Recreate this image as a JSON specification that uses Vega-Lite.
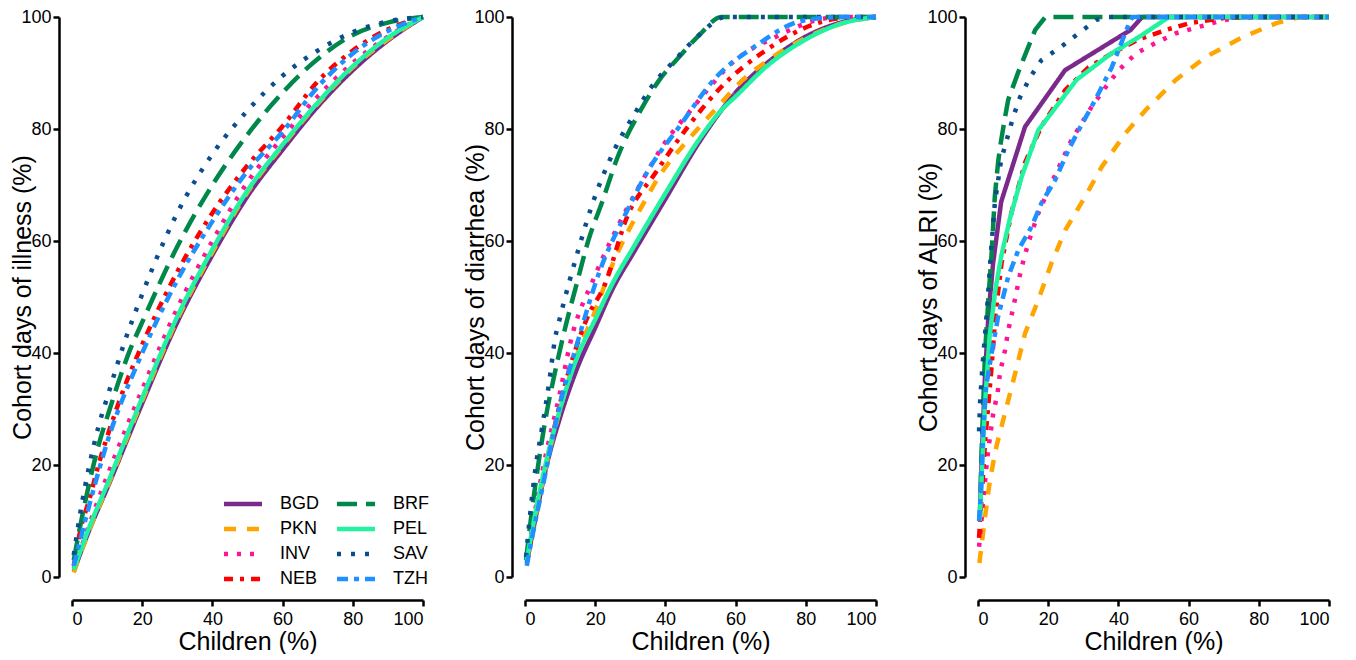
{
  "$schema": "https://vega.github.io/schema/vega-lite/v6.json",
  "background": "white",
  "padding": {"left": 10, "top": 8, "right": 5, "bottom": 0},
  "bounds": "flush",
  "spacing": 102,
  "config": {
    "view": {"stroke": null},
    "font": "Liberation Sans",
    "axis": {
      "grid": false,
      "domainColor": "black",
      "domainWidth": 2.5,
      "tickColor": "black",
      "tickWidth": 2.5,
      "tickSize": 6,
      "labelFont": "Liberation Sans",
      "labelFontSize": 18,
      "labelColor": "black",
      "titleFont": "Liberation Sans",
      "titleFontSize": 25,
      "titleFontWeight": "normal",
      "titleColor": "black"
    },
    "axisX": {"offset": 23, "titlePadding": 1, "labelPadding": 4},
    "axisY": {"offset": 13, "titlePadding": -15, "labelPadding": 2},
    "legend": {
      "labelFont": "Liberation Sans",
      "labelFontSize": 18,
      "labelColor": "black"
    },
    "line": {"strokeWidth": 4.5, "strokeCap": "butt", "strokeJoin": "round"}
  },
  "data": {"values": [
    {"p":"I","c":"BGD","x":0.5,"y":1},{"p":"I","c":"BGD","x":5,"y":8.5},{"p":"I","c":"BGD","x":10,"y":15.8},{"p":"I","c":"BGD","x":20,"y":31},{"p":"I","c":"BGD","x":30,"y":45.5},{"p":"I","c":"BGD","x":40,"y":57.5},{"p":"I","c":"BGD","x":50,"y":68},{"p":"I","c":"BGD","x":60,"y":76.3},{"p":"I","c":"BGD","x":70,"y":84},{"p":"I","c":"BGD","x":80,"y":90.5},{"p":"I","c":"BGD","x":90,"y":95.8},{"p":"I","c":"BGD","x":100,"y":100},
    {"p":"I","c":"PKN","x":0.5,"y":0.8},{"p":"I","c":"PKN","x":5,"y":8.5},{"p":"I","c":"PKN","x":10,"y":16},{"p":"I","c":"PKN","x":20,"y":31.5},{"p":"I","c":"PKN","x":30,"y":46},{"p":"I","c":"PKN","x":40,"y":58},{"p":"I","c":"PKN","x":50,"y":68.7},{"p":"I","c":"PKN","x":60,"y":77},{"p":"I","c":"PKN","x":70,"y":84.5},{"p":"I","c":"PKN","x":80,"y":91},{"p":"I","c":"PKN","x":90,"y":96},{"p":"I","c":"PKN","x":100,"y":100},
    {"p":"I","c":"INV","x":0.5,"y":1.5},{"p":"I","c":"INV","x":5,"y":9.5},{"p":"I","c":"INV","x":10,"y":18},{"p":"I","c":"INV","x":20,"y":33.5},{"p":"I","c":"INV","x":30,"y":48},{"p":"I","c":"INV","x":40,"y":60},{"p":"I","c":"INV","x":50,"y":70.5},{"p":"I","c":"INV","x":60,"y":78.5},{"p":"I","c":"INV","x":70,"y":85.8},{"p":"I","c":"INV","x":80,"y":91.8},{"p":"I","c":"INV","x":90,"y":96.5},{"p":"I","c":"INV","x":100,"y":100},
    {"p":"I","c":"NEB","x":0.5,"y":2},{"p":"I","c":"NEB","x":2.4,"y":8.4},{"p":"I","c":"NEB","x":5,"y":14},{"p":"I","c":"NEB","x":8,"y":21},{"p":"I","c":"NEB","x":10,"y":25},{"p":"I","c":"NEB","x":15,"y":34},{"p":"I","c":"NEB","x":20,"y":41.5},{"p":"I","c":"NEB","x":30,"y":54.5},{"p":"I","c":"NEB","x":40,"y":65},{"p":"I","c":"NEB","x":50,"y":73.5},{"p":"I","c":"NEB","x":60,"y":80.5},{"p":"I","c":"NEB","x":70,"y":88.5},{"p":"I","c":"NEB","x":80,"y":94},{"p":"I","c":"NEB","x":90,"y":97.8},{"p":"I","c":"NEB","x":100,"y":100},
    {"p":"I","c":"BRF","x":0.5,"y":3},{"p":"I","c":"BRF","x":2,"y":8},{"p":"I","c":"BRF","x":5,"y":17},{"p":"I","c":"BRF","x":8,"y":24.5},{"p":"I","c":"BRF","x":10,"y":28.5},{"p":"I","c":"BRF","x":16.5,"y":40.5},{"p":"I","c":"BRF","x":20,"y":45.5},{"p":"I","c":"BRF","x":30,"y":59},{"p":"I","c":"BRF","x":40,"y":70},{"p":"I","c":"BRF","x":50,"y":79},{"p":"I","c":"BRF","x":60,"y":86.5},{"p":"I","c":"BRF","x":70,"y":92.5},{"p":"I","c":"BRF","x":80,"y":96.8},{"p":"I","c":"BRF","x":90,"y":99},{"p":"I","c":"BRF","x":100,"y":100},
    {"p":"I","c":"PEL","x":0.5,"y":1.3},{"p":"I","c":"PEL","x":5,"y":9},{"p":"I","c":"PEL","x":10,"y":16.5},{"p":"I","c":"PEL","x":20,"y":32},{"p":"I","c":"PEL","x":30,"y":46.5},{"p":"I","c":"PEL","x":40,"y":58.5},{"p":"I","c":"PEL","x":50,"y":69},{"p":"I","c":"PEL","x":60,"y":77.2},{"p":"I","c":"PEL","x":70,"y":84.7},{"p":"I","c":"PEL","x":80,"y":91.2},{"p":"I","c":"PEL","x":90,"y":96.3},{"p":"I","c":"PEL","x":100,"y":100},
    {"p":"I","c":"SAV","x":0.5,"y":3.9},{"p":"I","c":"SAV","x":2.4,"y":11.6},{"p":"I","c":"SAV","x":4.8,"y":19.5},{"p":"I","c":"SAV","x":7.6,"y":27},{"p":"I","c":"SAV","x":10,"y":32},{"p":"I","c":"SAV","x":15,"y":42},{"p":"I","c":"SAV","x":20,"y":50.5},{"p":"I","c":"SAV","x":26.6,"y":60.5},{"p":"I","c":"SAV","x":30,"y":65},{"p":"I","c":"SAV","x":40,"y":75.5},{"p":"I","c":"SAV","x":50,"y":83.3},{"p":"I","c":"SAV","x":60,"y":89.5},{"p":"I","c":"SAV","x":70,"y":94},{"p":"I","c":"SAV","x":80,"y":97.3},{"p":"I","c":"SAV","x":90,"y":99.2},{"p":"I","c":"SAV","x":100,"y":100},
    {"p":"I","c":"TZH","x":0.5,"y":2},{"p":"I","c":"TZH","x":5,"y":13},{"p":"I","c":"TZH","x":10,"y":24},{"p":"I","c":"TZH","x":20,"y":40},{"p":"I","c":"TZH","x":30,"y":53},{"p":"I","c":"TZH","x":40,"y":63.5},{"p":"I","c":"TZH","x":50,"y":72.5},{"p":"I","c":"TZH","x":60,"y":79.5},{"p":"I","c":"TZH","x":70,"y":87.5},{"p":"I","c":"TZH","x":80,"y":93.5},{"p":"I","c":"TZH","x":90,"y":97.5},{"p":"I","c":"TZH","x":100,"y":100},

    {"p":"D","c":"BGD","x":0.5,"y":2.5},{"p":"D","c":"BGD","x":3,"y":10.5},{"p":"D","c":"BGD","x":6,"y":19.5},{"p":"D","c":"BGD","x":10,"y":28.5},{"p":"D","c":"BGD","x":15,"y":37.5},{"p":"D","c":"BGD","x":20,"y":44.5},{"p":"D","c":"BGD","x":25,"y":51.5},{"p":"D","c":"BGD","x":31,"y":58},{"p":"D","c":"BGD","x":40,"y":67.5},{"p":"D","c":"BGD","x":50,"y":78},{"p":"D","c":"BGD","x":60,"y":86.5},{"p":"D","c":"BGD","x":70,"y":92.3},{"p":"D","c":"BGD","x":80,"y":96.5},{"p":"D","c":"BGD","x":90,"y":99},{"p":"D","c":"BGD","x":100,"y":100},
    {"p":"D","c":"PKN","x":0.5,"y":3},{"p":"D","c":"PKN","x":5,"y":17},{"p":"D","c":"PKN","x":10,"y":30},{"p":"D","c":"PKN","x":15,"y":40},{"p":"D","c":"PKN","x":20,"y":47.5},{"p":"D","c":"PKN","x":24.4,"y":55},{"p":"D","c":"PKN","x":34,"y":67},{"p":"D","c":"PKN","x":38.7,"y":72},{"p":"D","c":"PKN","x":46.4,"y":78},{"p":"D","c":"PKN","x":54.1,"y":83.4},{"p":"D","c":"PKN","x":61.6,"y":88.5},{"p":"D","c":"PKN","x":69.3,"y":92.3},{"p":"D","c":"PKN","x":78.8,"y":95.9},{"p":"D","c":"PKN","x":90,"y":98.8},{"p":"D","c":"PKN","x":100,"y":100},
    {"p":"D","c":"INV","x":0.5,"y":3},{"p":"D","c":"INV","x":5,"y":19},{"p":"D","c":"INV","x":10,"y":33},{"p":"D","c":"INV","x":12.9,"y":41.8},{"p":"D","c":"INV","x":19.8,"y":53.6},{"p":"D","c":"INV","x":24.4,"y":60},{"p":"D","c":"INV","x":33,"y":70.3},{"p":"D","c":"INV","x":39.8,"y":77.5},{"p":"D","c":"INV","x":47.3,"y":83.4},{"p":"D","c":"INV","x":59.9,"y":92.3},{"p":"D","c":"INV","x":71.3,"y":96.4},{"p":"D","c":"INV","x":82.8,"y":99.4},{"p":"D","c":"INV","x":90,"y":100},{"p":"D","c":"INV","x":100,"y":100},
    {"p":"D","c":"NEB","x":0.5,"y":3},{"p":"D","c":"NEB","x":5,"y":17},{"p":"D","c":"NEB","x":10,"y":31},{"p":"D","c":"NEB","x":17.8,"y":46.4},{"p":"D","c":"NEB","x":22.6,"y":52},{"p":"D","c":"NEB","x":29.2,"y":64.5},{"p":"D","c":"NEB","x":37,"y":72},{"p":"D","c":"NEB","x":46.4,"y":80.4},{"p":"D","c":"NEB","x":55.9,"y":87.5},{"p":"D","c":"NEB","x":68.5,"y":94},{"p":"D","c":"NEB","x":82.8,"y":98.8},{"p":"D","c":"NEB","x":90,"y":99.8},{"p":"D","c":"NEB","x":100,"y":100},
    {"p":"D","c":"BRF","x":0.3,"y":3},{"p":"D","c":"BRF","x":2,"y":12},{"p":"D","c":"BRF","x":4,"y":21},{"p":"D","c":"BRF","x":6.3,"y":29.8},{"p":"D","c":"BRF","x":8,"y":35},{"p":"D","c":"BRF","x":11.1,"y":43.6},{"p":"D","c":"BRF","x":15,"y":53},{"p":"D","c":"BRF","x":18,"y":60},{"p":"D","c":"BRF","x":22,"y":67},{"p":"D","c":"BRF","x":26.4,"y":75},{"p":"D","c":"BRF","x":33,"y":83.4},{"p":"D","c":"BRF","x":38,"y":88.5},{"p":"D","c":"BRF","x":44.4,"y":93.2},{"p":"D","c":"BRF","x":50,"y":97},{"p":"D","c":"BRF","x":55.9,"y":100},{"p":"D","c":"BRF","x":100,"y":100},
    {"p":"D","c":"PEL","x":0.5,"y":3},{"p":"D","c":"PEL","x":3,"y":11.5},{"p":"D","c":"PEL","x":6,"y":20.5},{"p":"D","c":"PEL","x":10,"y":30},{"p":"D","c":"PEL","x":15,"y":39.5},{"p":"D","c":"PEL","x":20,"y":46},{"p":"D","c":"PEL","x":25,"y":52.5},{"p":"D","c":"PEL","x":31,"y":59},{"p":"D","c":"PEL","x":40,"y":68.5},{"p":"D","c":"PEL","x":50,"y":78.5},{"p":"D","c":"PEL","x":56,"y":83.4},{"p":"D","c":"PEL","x":60,"y":85.8},{"p":"D","c":"PEL","x":68.5,"y":91},{"p":"D","c":"PEL","x":80,"y":96},{"p":"D","c":"PEL","x":90,"y":98.8},{"p":"D","c":"PEL","x":100,"y":100},
    {"p":"D","c":"SAV","x":0.3,"y":3.6},{"p":"D","c":"SAV","x":1.5,"y":11.4},{"p":"D","c":"SAV","x":2.9,"y":19},{"p":"D","c":"SAV","x":4.9,"y":26.8},{"p":"D","c":"SAV","x":6.9,"y":34.8},{"p":"D","c":"SAV","x":8.6,"y":42.7},{"p":"D","c":"SAV","x":10,"y":46.4},{"p":"D","c":"SAV","x":15,"y":58},{"p":"D","c":"SAV","x":18.6,"y":65.5},{"p":"D","c":"SAV","x":25.5,"y":76.3},{"p":"D","c":"SAV","x":31.5,"y":83},{"p":"D","c":"SAV","x":36,"y":87.5},{"p":"D","c":"SAV","x":42.7,"y":92.3},{"p":"D","c":"SAV","x":50,"y":97},{"p":"D","c":"SAV","x":57,"y":100},{"p":"D","c":"SAV","x":100,"y":100},
    {"p":"D","c":"TZH","x":0.5,"y":2},{"p":"D","c":"TZH","x":2,"y":7},{"p":"D","c":"TZH","x":5,"y":16},{"p":"D","c":"TZH","x":10,"y":31},{"p":"D","c":"TZH","x":14.3,"y":40.5},{"p":"D","c":"TZH","x":21.5,"y":55},{"p":"D","c":"TZH","x":28.4,"y":64.5},{"p":"D","c":"TZH","x":35,"y":72.5},{"p":"D","c":"TZH","x":44.4,"y":80.8},{"p":"D","c":"TZH","x":54.1,"y":89},{"p":"D","c":"TZH","x":65.6,"y":94.8},{"p":"D","c":"TZH","x":78.8,"y":99.3},{"p":"D","c":"TZH","x":90,"y":100},{"p":"D","c":"TZH","x":100,"y":100},

    {"p":"A","c":"BGD","x":0.5,"y":10},{"p":"A","c":"BGD","x":1,"y":20},{"p":"A","c":"BGD","x":2,"y":36},{"p":"A","c":"BGD","x":3,"y":47},{"p":"A","c":"BGD","x":4.3,"y":56},{"p":"A","c":"BGD","x":6.6,"y":67},{"p":"A","c":"BGD","x":13.4,"y":80.4},{"p":"A","c":"BGD","x":24.8,"y":90.5},{"p":"A","c":"BGD","x":43.5,"y":97.7},{"p":"A","c":"BGD","x":46.8,"y":100},{"p":"A","c":"BGD","x":100,"y":100},
    {"p":"A","c":"PKN","x":0.4,"y":2.5},{"p":"A","c":"PKN","x":2,"y":10.7},{"p":"A","c":"PKN","x":3.4,"y":17.3},{"p":"A","c":"PKN","x":5.2,"y":23.2},{"p":"A","c":"PKN","x":7.7,"y":29.3},{"p":"A","c":"PKN","x":10.6,"y":36.4},{"p":"A","c":"PKN","x":13.4,"y":43.5},{"p":"A","c":"PKN","x":17.2,"y":49.5},{"p":"A","c":"PKN","x":20.9,"y":56},{"p":"A","c":"PKN","x":24.9,"y":62},{"p":"A","c":"PKN","x":30.6,"y":68},{"p":"A","c":"PKN","x":35.2,"y":73.2},{"p":"A","c":"PKN","x":42.1,"y":79.3},{"p":"A","c":"PKN","x":47.8,"y":83.4},{"p":"A","c":"PKN","x":56.4,"y":88.8},{"p":"A","c":"PKN","x":65,"y":92.9},{"p":"A","c":"PKN","x":75.4,"y":96.4},{"p":"A","c":"PKN","x":85,"y":98.9},{"p":"A","c":"PKN","x":91.7,"y":100},{"p":"A","c":"PKN","x":100,"y":100},
    {"p":"A","c":"INV","x":0.3,"y":5.4},{"p":"A","c":"INV","x":0.9,"y":9.3},{"p":"A","c":"INV","x":1.4,"y":13.2},{"p":"A","c":"INV","x":2,"y":17},{"p":"A","c":"INV","x":2.6,"y":21},{"p":"A","c":"INV","x":3.4,"y":25},{"p":"A","c":"INV","x":4.3,"y":29},{"p":"A","c":"INV","x":5.6,"y":33},{"p":"A","c":"INV","x":6.3,"y":36.6},{"p":"A","c":"INV","x":7.7,"y":40.5},{"p":"A","c":"INV","x":8.6,"y":44},{"p":"A","c":"INV","x":10,"y":48},{"p":"A","c":"INV","x":12.3,"y":55},{"p":"A","c":"INV","x":14.3,"y":59.6},{"p":"A","c":"INV","x":17.2,"y":65},{"p":"A","c":"INV","x":20.9,"y":70.3},{"p":"A","c":"INV","x":26.6,"y":78},{"p":"A","c":"INV","x":32.4,"y":84},{"p":"A","c":"INV","x":36.4,"y":87.5},{"p":"A","c":"INV","x":40.1,"y":90.5},{"p":"A","c":"INV","x":45,"y":93.5},{"p":"A","c":"INV","x":50.7,"y":95.4},{"p":"A","c":"INV","x":56.4,"y":97.1},{"p":"A","c":"INV","x":67.9,"y":99.1},{"p":"A","c":"INV","x":74.5,"y":100},{"p":"A","c":"INV","x":100,"y":100},
    {"p":"A","c":"NEB","x":0.3,"y":7},{"p":"A","c":"NEB","x":1,"y":14},{"p":"A","c":"NEB","x":2,"y":24},{"p":"A","c":"NEB","x":3.8,"y":37},{"p":"A","c":"NEB","x":5,"y":47},{"p":"A","c":"NEB","x":6.7,"y":56},{"p":"A","c":"NEB","x":9.5,"y":65},{"p":"A","c":"NEB","x":13.4,"y":74},{"p":"A","c":"NEB","x":18.1,"y":80.5},{"p":"A","c":"NEB","x":24.9,"y":87},{"p":"A","c":"NEB","x":31.5,"y":91},{"p":"A","c":"NEB","x":38.1,"y":93.5},{"p":"A","c":"NEB","x":45.8,"y":96},{"p":"A","c":"NEB","x":53.6,"y":97.7},{"p":"A","c":"NEB","x":60.2,"y":98.9},{"p":"A","c":"NEB","x":70,"y":99.8},{"p":"A","c":"NEB","x":80,"y":100},{"p":"A","c":"NEB","x":100,"y":100},
    {"p":"A","c":"BRF","x":0.5,"y":10},{"p":"A","c":"BRF","x":1,"y":22},{"p":"A","c":"BRF","x":2,"y":40},{"p":"A","c":"BRF","x":3,"y":50},{"p":"A","c":"BRF","x":3.8,"y":57},{"p":"A","c":"BRF","x":4.8,"y":68},{"p":"A","c":"BRF","x":5.7,"y":73.9},{"p":"A","c":"BRF","x":6.3,"y":76.8},{"p":"A","c":"BRF","x":7.7,"y":82.1},{"p":"A","c":"BRF","x":8.6,"y":85.2},{"p":"A","c":"BRF","x":11.5,"y":90.2},{"p":"A","c":"BRF","x":13.4,"y":93.2},{"p":"A","c":"BRF","x":16.3,"y":97.7},{"p":"A","c":"BRF","x":19.2,"y":100},{"p":"A","c":"BRF","x":100,"y":100},
    {"p":"A","c":"PEL","x":0.5,"y":10},{"p":"A","c":"PEL","x":1.9,"y":30},{"p":"A","c":"PEL","x":3.3,"y":43},{"p":"A","c":"PEL","x":5,"y":51.5},{"p":"A","c":"PEL","x":6.7,"y":57.5},{"p":"A","c":"PEL","x":9.1,"y":64},{"p":"A","c":"PEL","x":12.4,"y":71.4},{"p":"A","c":"PEL","x":17.2,"y":79.8},{"p":"A","c":"PEL","x":28.1,"y":88.8},{"p":"A","c":"PEL","x":38,"y":93.5},{"p":"A","c":"PEL","x":45.8,"y":96.4},{"p":"A","c":"PEL","x":54.4,"y":100},{"p":"A","c":"PEL","x":100,"y":100},
    {"p":"A","c":"SAV","x":0.3,"y":26},{"p":"A","c":"SAV","x":0.6,"y":31.3},{"p":"A","c":"SAV","x":1.2,"y":37},{"p":"A","c":"SAV","x":2,"y":43.2},{"p":"A","c":"SAV","x":2.6,"y":48},{"p":"A","c":"SAV","x":3.8,"y":58.9},{"p":"A","c":"SAV","x":4.8,"y":66.8},{"p":"A","c":"SAV","x":6.6,"y":74.5},{"p":"A","c":"SAV","x":10,"y":82.1},{"p":"A","c":"SAV","x":12,"y":85.7},{"p":"A","c":"SAV","x":14.9,"y":89.3},{"p":"A","c":"SAV","x":18.1,"y":92.3},{"p":"A","c":"SAV","x":23.5,"y":94.6},{"p":"A","c":"SAV","x":28.7,"y":97.1},{"p":"A","c":"SAV","x":33.8,"y":99.5},{"p":"A","c":"SAV","x":37,"y":100},{"p":"A","c":"SAV","x":100,"y":100},
    {"p":"A","c":"TZH","x":0.3,"y":10},{"p":"A","c":"TZH","x":0.9,"y":16},{"p":"A","c":"TZH","x":1.4,"y":25},{"p":"A","c":"TZH","x":2.3,"y":34},{"p":"A","c":"TZH","x":3.8,"y":39.6},{"p":"A","c":"TZH","x":5.7,"y":46.4},{"p":"A","c":"TZH","x":8.6,"y":53.6},{"p":"A","c":"TZH","x":11.5,"y":58.4},{"p":"A","c":"TZH","x":15.2,"y":62.5},{"p":"A","c":"TZH","x":18.1,"y":66.8},{"p":"A","c":"TZH","x":22,"y":70.9},{"p":"A","c":"TZH","x":25.8,"y":76.3},{"p":"A","c":"TZH","x":28.7,"y":79.8},{"p":"A","c":"TZH","x":33.4,"y":85.2},{"p":"A","c":"TZH","x":38.1,"y":91},{"p":"A","c":"TZH","x":43,"y":98.8},{"p":"A","c":"TZH","x":44,"y":100},{"p":"A","c":"TZH","x":100,"y":100}
  ]},
  "resolve": {"legend": {"color": "independent", "strokeDash": "independent"}},
  "hconcat": [
    {
      "width": 351, "height": 560,
      "transform": [{"filter": "datum.p === 'I'"}],
      "mark": {"type": "line", "interpolate": "monotone"},
      "encoding": {
        "x": {"field": "x", "type": "quantitative", "title": "Children (%)", "scale": {"domain": [0, 100], "nice": false}, "axis": {"values": [0, 20, 40, 60, 80, 100]}},
        "y": {"field": "y", "type": "quantitative", "title": "Cohort days of illness (%)", "scale": {"domain": [0, 100], "nice": false}, "axis": {"values": [0, 20, 40, 60, 80, 100]}},
        "color": {"field": "c", "type": "nominal",
          "scale": {"domain": ["BGD","PKN","INV","NEB","BRF","PEL","SAV","TZH"], "range": ["#7B2A8C","#FFA500","#FF1493","#FF0000","#00884B","#21F3A0","#0B4E8E","#1E90FF"]},
          "legend": {"title": null, "orient": "none", "legendX": 159, "legendY": 475, "columns": 2, "symbolType": "M-2,0H2", "symbolSize": 361, "symbolStrokeWidth": 3.5, "labelOffset": 25, "columnPadding": 14, "rowPadding": 4, "padding": 0}},
        "strokeDash": {"field": "c", "type": "nominal",
          "scale": {"domain": ["BGD","PKN","INV","NEB","BRF","PEL","SAV","TZH"], "range": [[1,0],[12,11],[4,9],[9,7,4,7],[20,9],[1,0],[4,10],[11,6,5,6]]},
          "legend": {"title": null, "orient": "none", "legendX": 159, "legendY": 475, "columns": 2, "symbolType": "M-2,0H2", "symbolSize": 361, "symbolStrokeWidth": 3.5, "labelOffset": 25, "columnPadding": 14, "rowPadding": 4, "padding": 0}}
      }
    },
    {
      "width": 351, "height": 560,
      "transform": [{"filter": "datum.p === 'D'"}],
      "mark": {"type": "line", "interpolate": "monotone"},
      "encoding": {
        "x": {"field": "x", "type": "quantitative", "title": "Children (%)", "scale": {"domain": [0, 100], "nice": false}, "axis": {"values": [0, 20, 40, 60, 80, 100]}},
        "y": {"field": "y", "type": "quantitative", "title": "Cohort days of diarrhea (%)", "scale": {"domain": [0, 100], "nice": false}, "axis": {"values": [0, 20, 40, 60, 80, 100]}},
        "color": {"field": "c", "type": "nominal",
          "scale": {"domain": ["BGD","PKN","INV","NEB","BRF","PEL","SAV","TZH"], "range": ["#7B2A8C","#FFA500","#FF1493","#FF0000","#00884B","#21F3A0","#0B4E8E","#1E90FF"]},
          "legend": null},
        "strokeDash": {"field": "c", "type": "nominal",
          "scale": {"domain": ["BGD","PKN","INV","NEB","BRF","PEL","SAV","TZH"], "range": [[1,0],[12,11],[4,9],[9,7,4,7],[20,9],[1,0],[4,10],[11,6,5,6]]},
          "legend": null}
      }
    },
    {
      "width": 351, "height": 560,
      "transform": [{"filter": "datum.p === 'A'"}],
      "mark": {"type": "line", "interpolate": "linear"},
      "encoding": {
        "x": {"field": "x", "type": "quantitative", "title": "Children (%)", "scale": {"domain": [0, 100], "nice": false}, "axis": {"values": [0, 20, 40, 60, 80, 100]}},
        "y": {"field": "y", "type": "quantitative", "title": "Cohort days of ALRI (%)", "scale": {"domain": [0, 100], "nice": false}, "axis": {"values": [0, 20, 40, 60, 80, 100]}},
        "color": {"field": "c", "type": "nominal",
          "scale": {"domain": ["BGD","PKN","INV","NEB","BRF","PEL","SAV","TZH"], "range": ["#7B2A8C","#FFA500","#FF1493","#FF0000","#00884B","#21F3A0","#0B4E8E","#1E90FF"]},
          "legend": null},
        "strokeDash": {"field": "c", "type": "nominal",
          "scale": {"domain": ["BGD","PKN","INV","NEB","BRF","PEL","SAV","TZH"], "range": [[1,0],[12,11],[4,9],[9,7,4,7],[20,9],[1,0],[4,10],[11,6,5,6]]},
          "legend": null}
      }
    }
  ]
}
